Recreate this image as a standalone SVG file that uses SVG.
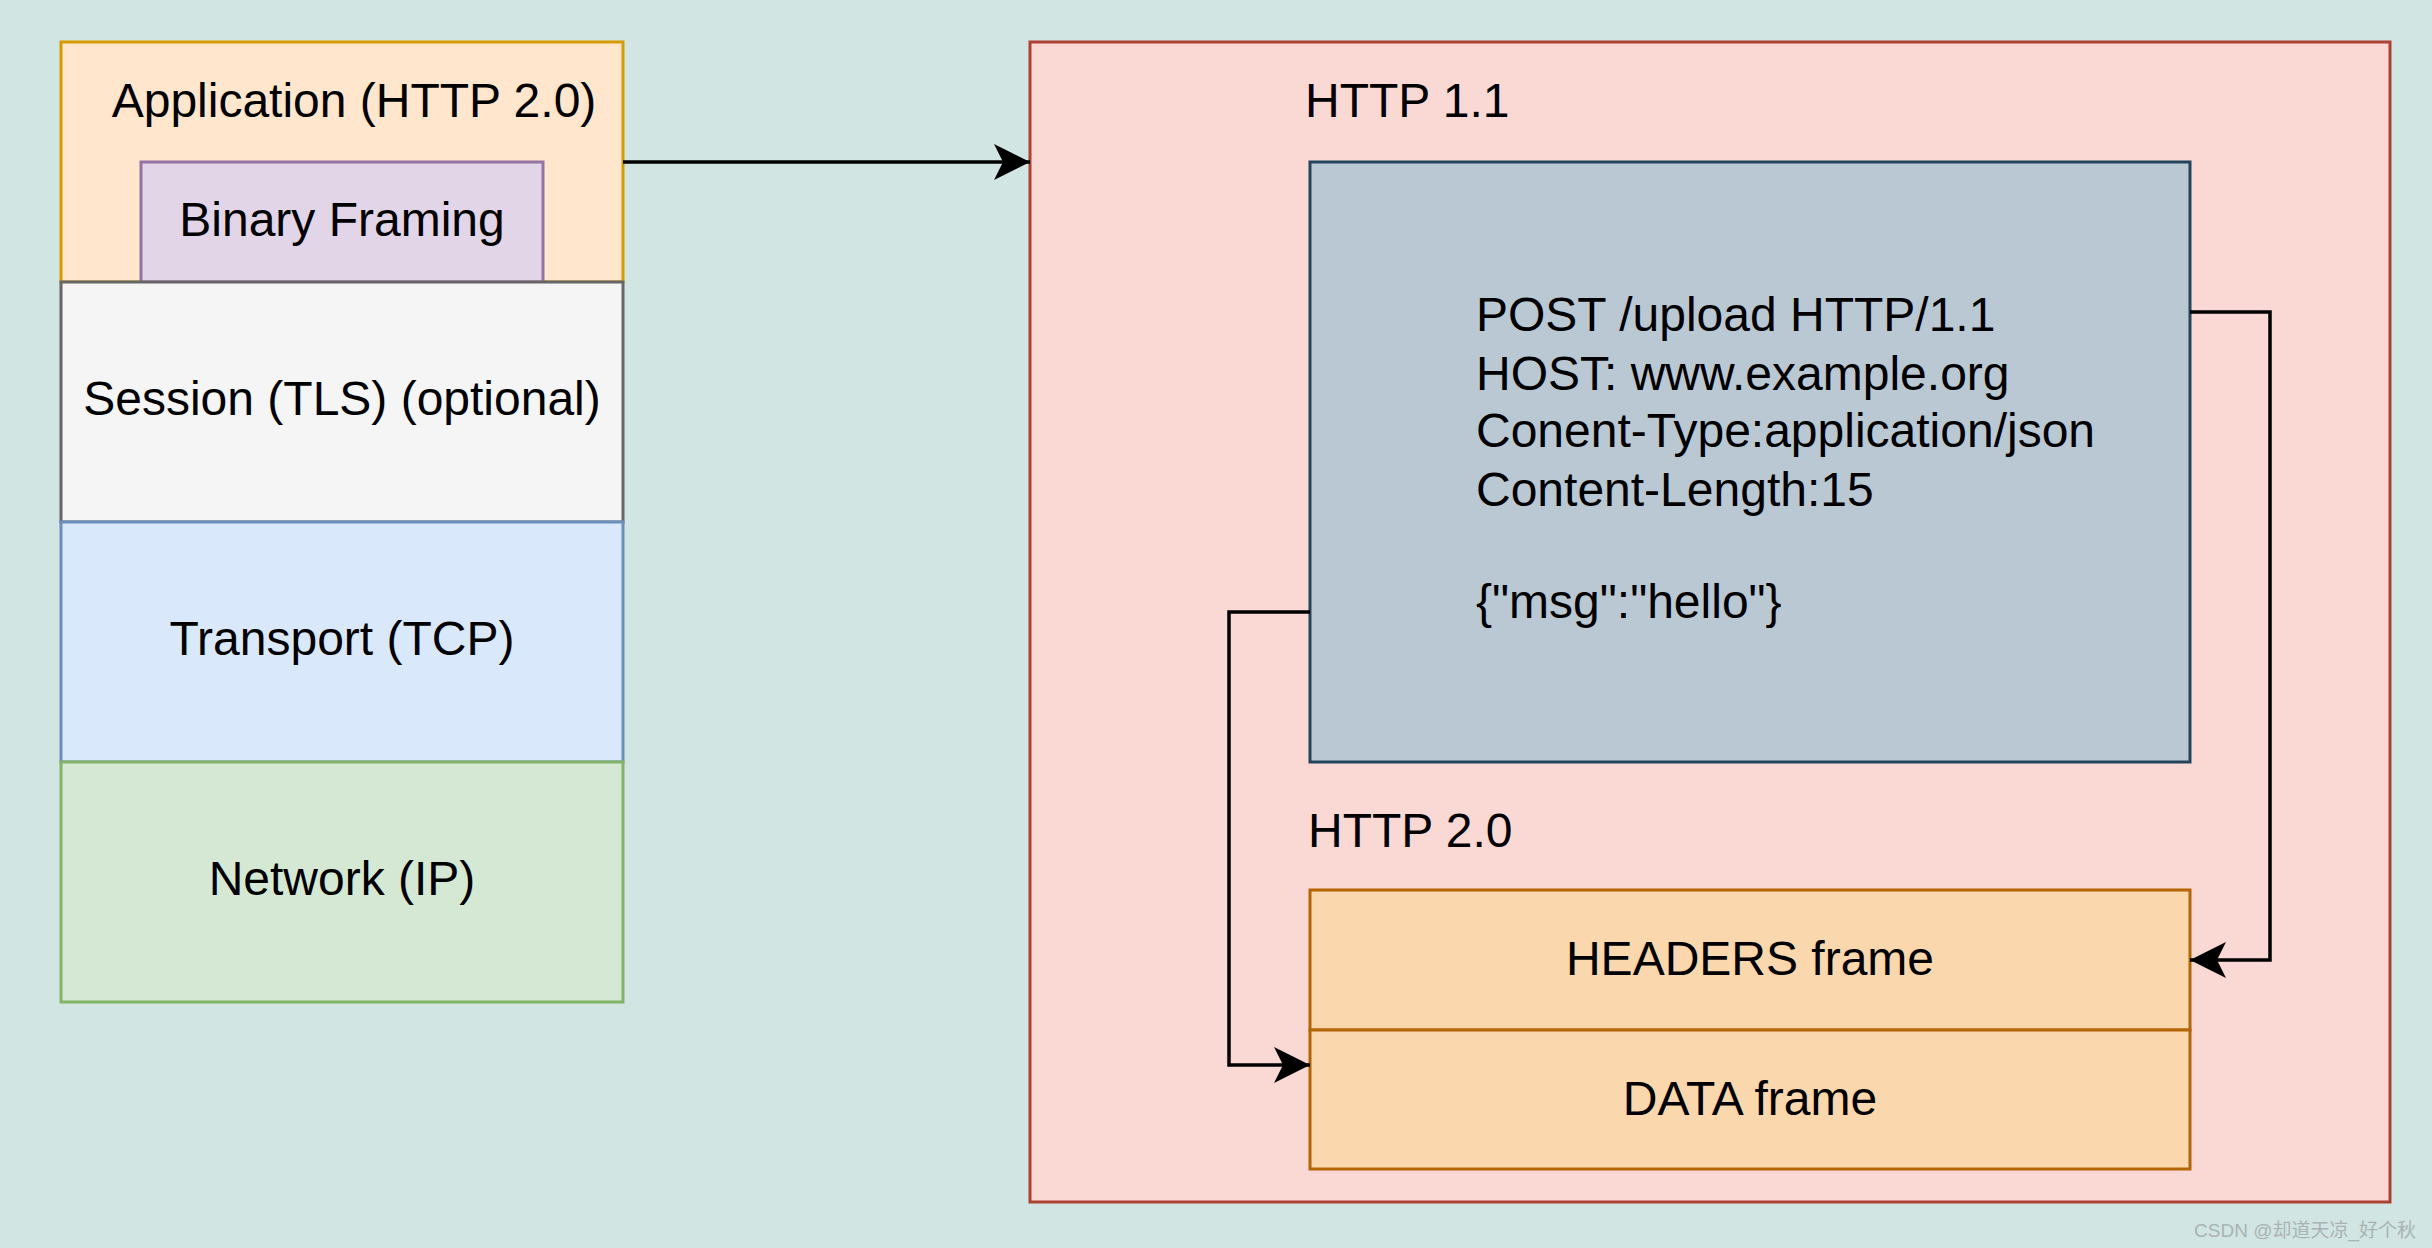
<svg xmlns="http://www.w3.org/2000/svg" width="2432" height="1248" viewBox="0 0 2432 1248">
<style>
text{font-family:"Liberation Sans",Arial,sans-serif;font-size:48px;fill:#000}
.c{text-anchor:middle}
.box{stroke-width:3}
.conn{fill:none;stroke:#000;stroke-width:3.5}
.wm{font-size:19px;fill:#a9b3b2;text-anchor:end;font-family:"Liberation Sans","Noto Sans CJK SC",sans-serif}
</style>
<defs>
<marker id="arr" markerUnits="userSpaceOnUse" viewBox="0 0 36 36" refX="36" refY="18" markerWidth="36" markerHeight="36" orient="auto">
<path d="M0,0 L36,18 L0,36 L9,18 Z" fill="#000"/>
</marker>
</defs>
<rect width="2432" height="1248" fill="#d1e5e2"/>
<g id="application">
<rect class="box" x="61" y="42" width="562" height="240" fill="#ffe6cc" stroke="#d79b00"/>
<text class="c" x="354" y="117">Application (HTTP 2.0)</text>
</g>
<g id="binary-framing">
<rect class="box" x="141" y="162" width="402" height="120" fill="#e1d5e7" stroke="#9673a6"/>
<text class="c" x="342" y="236">Binary Framing</text>
</g>
<g id="session">
<rect class="box" x="61" y="282" width="562" height="240" fill="#f5f5f5" stroke="#666666"/>
<text class="c" x="342" y="415">Session (TLS) (optional)</text>
</g>
<g id="transport">
<rect class="box" x="61" y="522" width="562" height="240" fill="#dae8fc" stroke="#6c8ebf"/>
<text class="c" x="342" y="655">Transport (TCP)</text>
</g>
<g id="network">
<rect class="box" x="61" y="762" width="562" height="240" fill="#d5e8d4" stroke="#82b366"/>
<text class="c" x="342" y="895">Network (IP)</text>
</g>
<g id="container">
<rect class="box" x="1030" y="42" width="1360" height="1160" fill="#fad9d5" stroke="#ae4132"/>
</g>
<g id="label-http11">
<text x="1305" y="117">HTTP 1.1</text>
</g>
<g id="http11-request">
<rect class="box" x="1310" y="162" width="880" height="600" fill="#bac8d3" stroke="#23445d"/>
<text x="1476" y="331">POST /upload HTTP/1.1</text>
<text x="1476" y="390">HOST: www.example.org</text>
<text x="1476" y="447">Conent-Type:application/json</text>
<text x="1476" y="506">Content-Length:15</text>
<text x="1476" y="618">{"msg":"hello"}</text>
</g>
<g id="label-http20">
<text x="1308" y="847">HTTP 2.0</text>
</g>
<g id="headers-frame">
<rect class="box" x="1310" y="890" width="880" height="140" fill="#fad7ac" stroke="#b46504"/>
<text class="c" x="1750" y="975">HEADERS frame</text>
</g>
<g id="data-frame">
<rect class="box" x="1310" y="1030" width="880" height="139" fill="#fad7ac" stroke="#b46504"/>
<text class="c" x="1750" y="1115">DATA frame</text>
</g>
<g id="connectors">
<path class="conn" d="M623,162 L1030,162" marker-end="url(#arr)"/>
<path class="conn" d="M2190,312 L2270,312 L2270,960 L2190,960" marker-end="url(#arr)"/>
<path class="conn" d="M1310,612 L1229,612 L1229,1065 L1310,1065" marker-end="url(#arr)"/>
</g>
<text class="wm" x="2416" y="1237">CSDN @却道天凉_好个秋</text>
</svg>
